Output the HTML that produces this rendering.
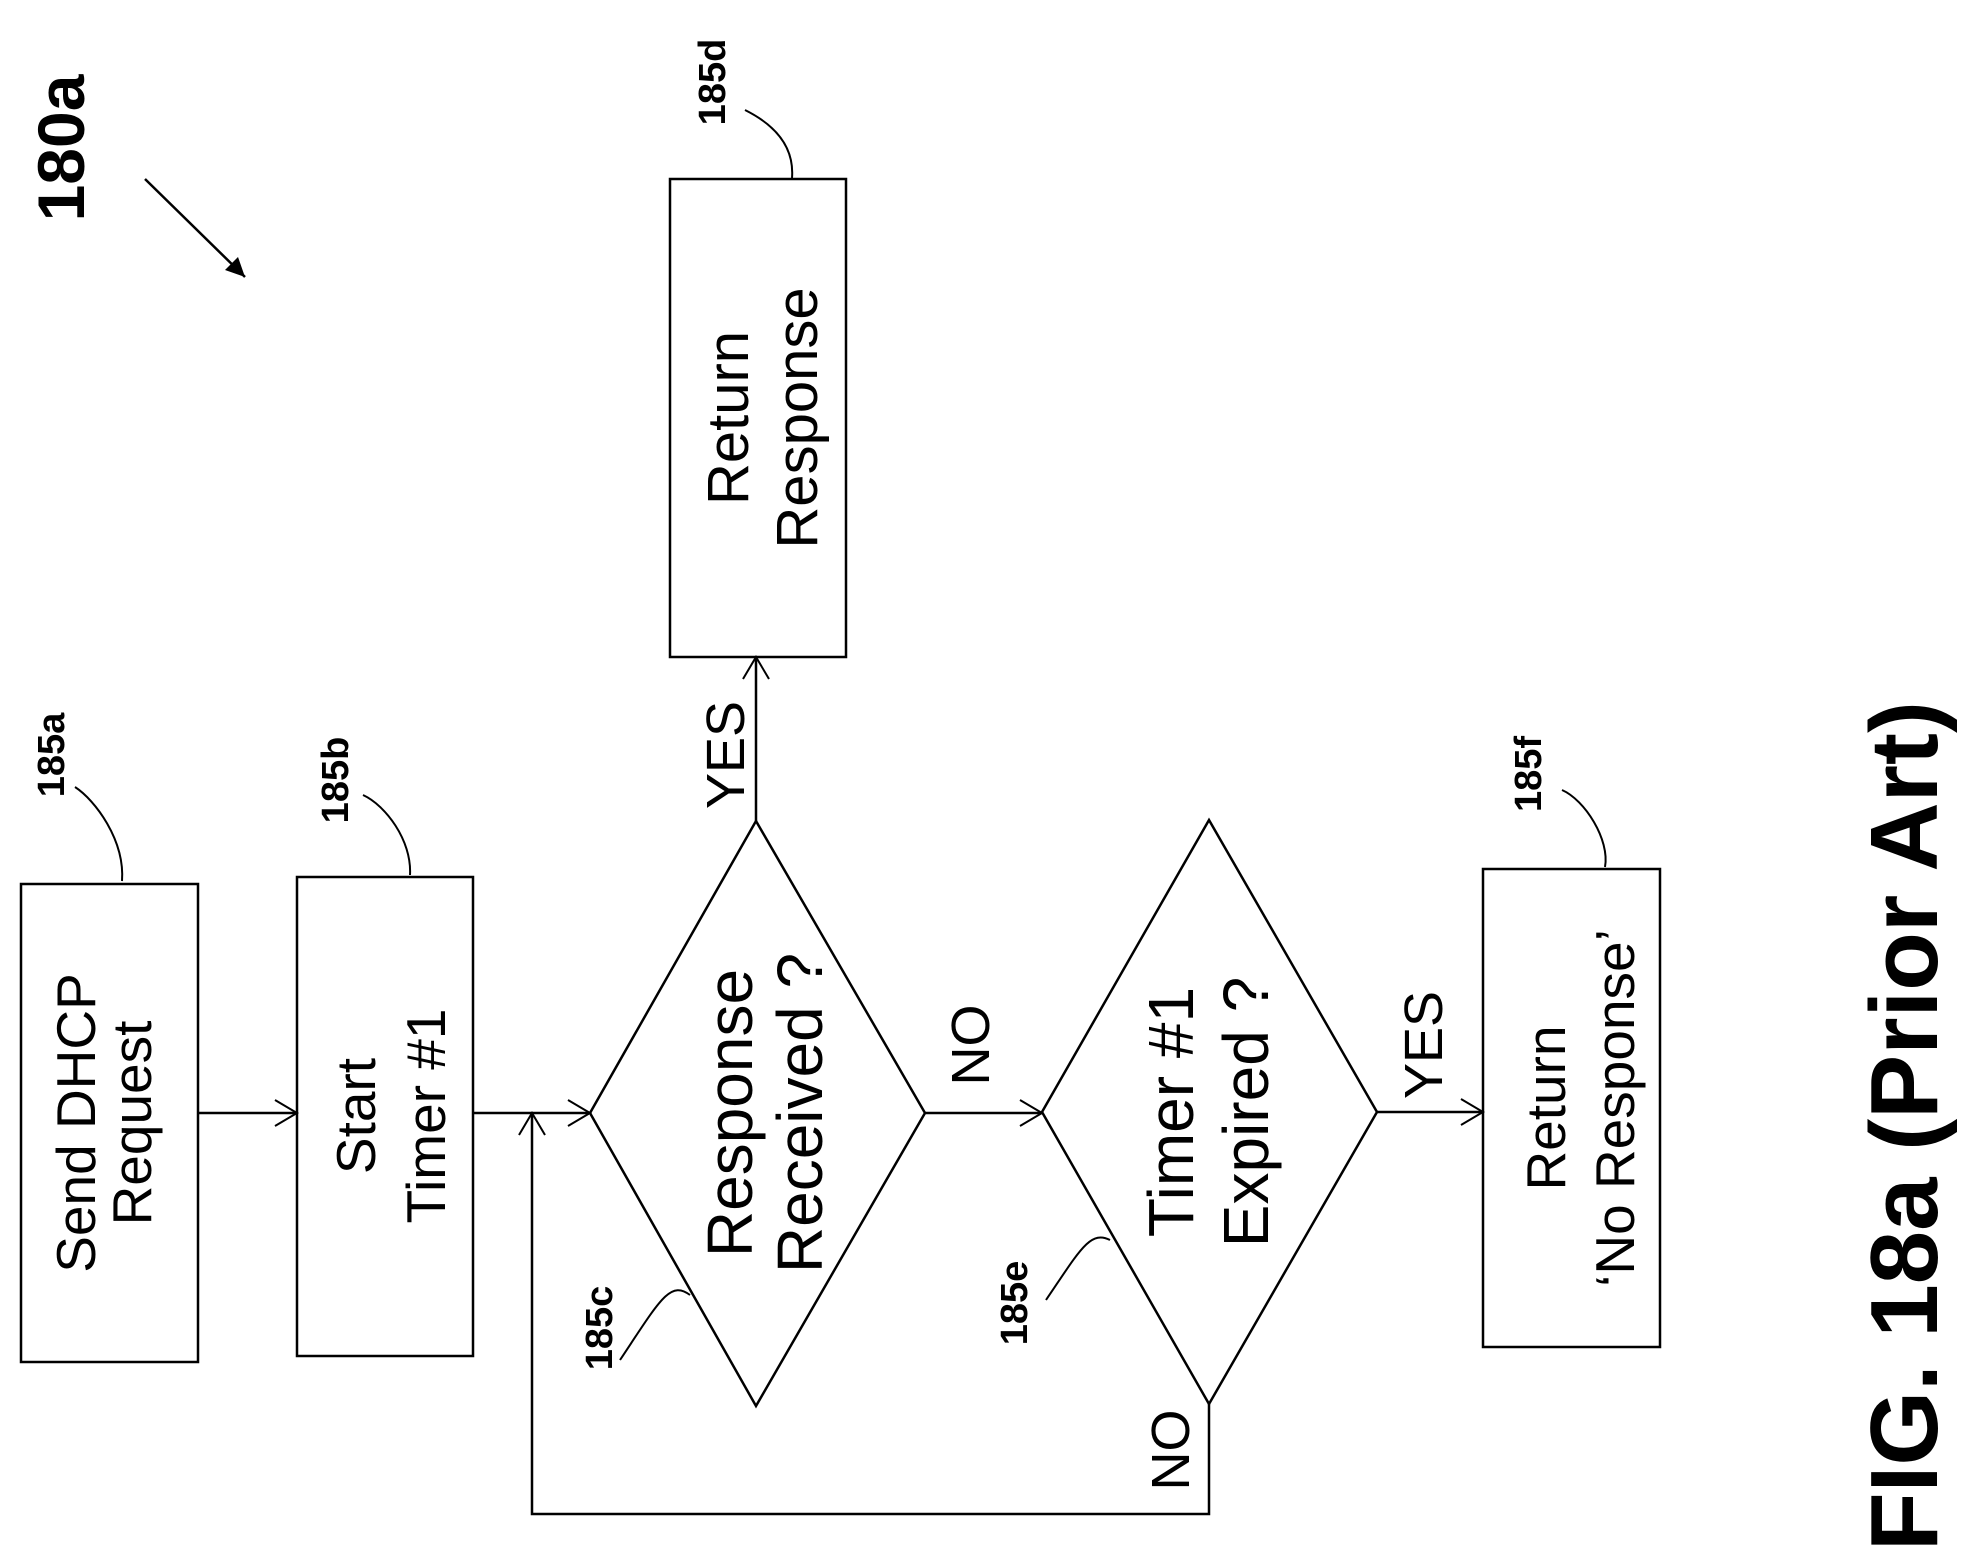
<!DOCTYPE html>
<html><head><style>html,body{margin:0;padding:0;background:#fff}svg{display:block}</style></head>
<body>
<svg width="1964" height="1563" viewBox="0 0 1964 1563" xmlns="http://www.w3.org/2000/svg" font-family="Liberation Sans, Arial, sans-serif">
<g fill="none" stroke="#000" stroke-width="2.5">
<rect x="21" y="884" width="177" height="478"/>
<rect x="297" y="877" width="176" height="479"/>
<rect x="670" y="179" width="176" height="478"/>
<rect x="1483" y="869" width="177" height="478"/>
<polygon points="756,821 925,1113 756,1406 590,1113"/>
<polygon points="1209,820 1377,1112 1209,1404 1042,1112"/>
<line x1="198" y1="1113" x2="297" y2="1113"/>
<line x1="473" y1="1113" x2="590" y2="1113"/>
<line x1="925" y1="1113" x2="1042" y2="1113"/>
<line x1="1377" y1="1112" x2="1483" y2="1112"/>
<line x1="756" y1="821" x2="756" y2="657"/>
<polyline points="1209,1404 1209,1514 532,1514 532,1113"/>
<line x1="145" y1="179" x2="245" y2="277"/>
</g>
<g fill="none" stroke="#000" stroke-width="2">
<polyline points="275,1100 297,1113 275,1126"/>
<polyline points="568,1100 590,1113 568,1126"/>
<polyline points="1020,1100 1042,1113 1020,1126"/>
<polyline points="1461,1099 1483,1112 1461,1125"/>
<polyline points="743,679 756,657 769,679"/>
<polyline points="519,1135 532,1113 545,1135"/>
<path d="M75,787 C95,800 125,840 122,881"/>
<path d="M363,795 C385,805 412,840 410,875"/>
<path d="M745,110 C765,120 795,140 792,178"/>
<path d="M1562,790 C1585,800 1610,840 1605,867"/>
<path d="M620,1360 C660,1300 670,1280 690,1295"/>
<path d="M1046,1300 C1080,1250 1090,1230 1110,1240"/>
</g>
<polygon points="245,277 225,270 238,257" fill="#000"/>
<g fill="#000" font-size="55" text-anchor="middle">
<text transform="translate(110,1123) rotate(-90)"><tspan x="0" y="-15">Send DHCP</tspan><tspan x="0" y="41">Request</tspan></text>
<text transform="translate(385,1116) rotate(-90)"><tspan x="0" y="-10">Start</tspan><tspan x="0" y="60">Timer #1</tspan></text>
<text transform="translate(758,418) rotate(-90)" font-size="58"><tspan x="0" y="-10">Return</tspan><tspan x="0" y="59">Response</tspan></text>
<text transform="translate(1571,1108) rotate(-90)"><tspan x="0" y="-6">Return</tspan><tspan x="0" y="63">‘No Response’</tspan></text>
<text transform="translate(756,1113) rotate(-90)" font-size="64"><tspan x="0" y="-4">Response</tspan><tspan x="0" y="66">Received ?</tspan></text>
<text transform="translate(1209,1112) rotate(-90)" font-size="64"><tspan x="0" y="-16">Timer #1</tspan><tspan x="0" y="59">Expired ?</tspan></text>
<text transform="translate(744,755) rotate(-90)" font-size="54">YES</text>
<text transform="translate(989,1045) rotate(-90)" font-size="54">NO</text>
<text transform="translate(1442,1045) rotate(-90)" font-size="54">YES</text>
<text transform="translate(1189,1450) rotate(-90)" font-size="54">NO</text>
</g>
<g fill="#000" font-weight="bold" font-size="38" text-anchor="middle">
<text transform="translate(64,755) rotate(-90)">185a</text>
<text transform="translate(348,780) rotate(-90)">185b</text>
<text transform="translate(725,82) rotate(-90)">185d</text>
<text transform="translate(1541,774) rotate(-90)">185f</text>
<text transform="translate(612,1328) rotate(-90)">185c</text>
<text transform="translate(1027,1303) rotate(-90)">185e</text>
<text transform="translate(84,148) rotate(-90)" font-size="66">180a</text>
<text transform="translate(1937,1126) rotate(-90)" font-size="96">FIG. 18a (Prior Art)</text>
</g>
</svg>
</body></html>
